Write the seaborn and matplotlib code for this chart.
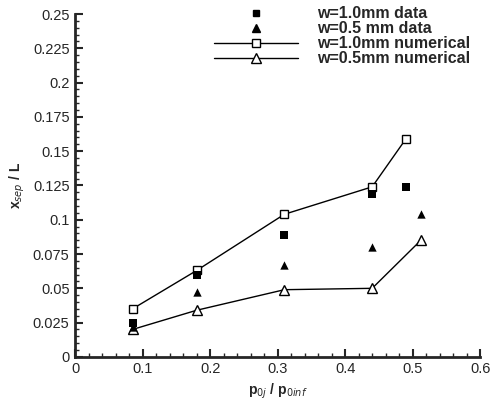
import matplotlib
matplotlib.use("Agg")
import matplotlib.pyplot as plt
import seaborn as sns
import pandas as pd
from matplotlib.ticker import MultipleLocator, FuncFormatter
from matplotlib.lines import Line2D

# Data
x_num10 = [0.085, 0.18, 0.31, 0.44, 0.49]
y_num10 = [0.035, 0.063, 0.104, 0.124, 0.159]
x_num05 = [0.085, 0.18, 0.31, 0.44, 0.512]
y_num05 = [0.020, 0.034, 0.049, 0.050, 0.085]
x_dat10 = [0.085, 0.18, 0.31, 0.44, 0.49]
y_dat10 = [0.025, 0.060, 0.089, 0.119, 0.124]
x_dat05 = [0.085, 0.18, 0.31, 0.44, 0.512]
y_dat05 = [0.022, 0.047, 0.067, 0.080, 0.104]

labels = ["w=1.0mm data", "w=0.5 mm data", "w=1.0mm numerical", "w=0.5mm numerical"]

sns.set_style("ticks")
plt.rcParams['font.family'] = ['Liberation Sans', 'DejaVu Sans']

fig = plt.figure(figsize=(4.91, 4.01), dpi=100)
ax = fig.add_axes([0.153, 0.11, 0.825, 0.855])

df_n10 = pd.DataFrame({"x": x_num10, "y": y_num10})
df_n05 = pd.DataFrame({"x": x_num05, "y": y_num05})
df_d10 = pd.DataFrame({"x": x_dat10, "y": y_dat10})
df_d05 = pd.DataFrame({"x": x_dat05, "y": y_dat05})

sns.lineplot(data=df_n10, x="x", y="y", ax=ax, color="black", lw=1.0,
             marker="s", markersize=6, markerfacecolor="white",
             markeredgecolor="black", markeredgewidth=1.0, sort=False)
sns.lineplot(data=df_n05, x="x", y="y", ax=ax, color="black", lw=1.0,
             marker="^", markersize=7, markerfacecolor="white",
             markeredgecolor="black", markeredgewidth=1.0, sort=False)
sns.scatterplot(data=df_d10, x="x", y="y", ax=ax, color="black", marker="s",
                s=30, edgecolor="black", linewidth=0, zorder=3)
sns.scatterplot(data=df_d05, x="x", y="y", ax=ax, color="black", marker="^",
                s=36, edgecolor="black", linewidth=0, zorder=3)

ax.set_xlim(0, 0.6)
ax.set_ylim(0, 0.25)
ax.xaxis.set_major_locator(MultipleLocator(0.1))
ax.xaxis.set_minor_locator(MultipleLocator(0.02))
ax.yaxis.set_major_locator(MultipleLocator(0.025))
ax.yaxis.set_minor_locator(MultipleLocator(0.005))

def fmt(v, pos):
    s = f"{v:.3f}".rstrip("0").rstrip(".")
    return s if s else "0"
ax.xaxis.set_major_formatter(FuncFormatter(fmt))
ax.yaxis.set_major_formatter(FuncFormatter(fmt))

ax.tick_params(which="both", direction="in")
ax.tick_params(which="major", length=6, width=1.5, labelsize=10.5, pad=4)
ax.tick_params(which="minor", length=3, width=1.0)
for s in ["top", "right"]:
    ax.spines[s].set_visible(False)
for s in ["left", "bottom"]:
    ax.spines[s].set_linewidth(2)

ax.set_xlabel(r"p$_{0j}$ / p$_{0inf}$", fontsize=10, fontweight="bold")
ax.set_ylabel(r"x$_{sep}$ / L", fontsize=10, fontweight="bold")

handles = [
    Line2D([], [], ls="none", marker="s", color="black", markersize=5),
    Line2D([], [], ls="none", marker="^", color="black", markersize=6),
    Line2D([], [], color="black", lw=1.0, marker="s", markersize=6,
           markerfacecolor="white", markeredgecolor="black"),
    Line2D([], [], color="black", lw=1.0, marker="^", markersize=7,
           markerfacecolor="white", markeredgecolor="black"),
]
leg = ax.legend(handles, labels, loc="upper right", bbox_to_anchor=(1.0, 1.05),
                frameon=False, handlelength=5.3, handletextpad=1.2,
                labelspacing=0.0, borderaxespad=0.2,
                prop={"size": 11.5, "weight": "bold"})

fig.savefig("out.png", dpi=100)
